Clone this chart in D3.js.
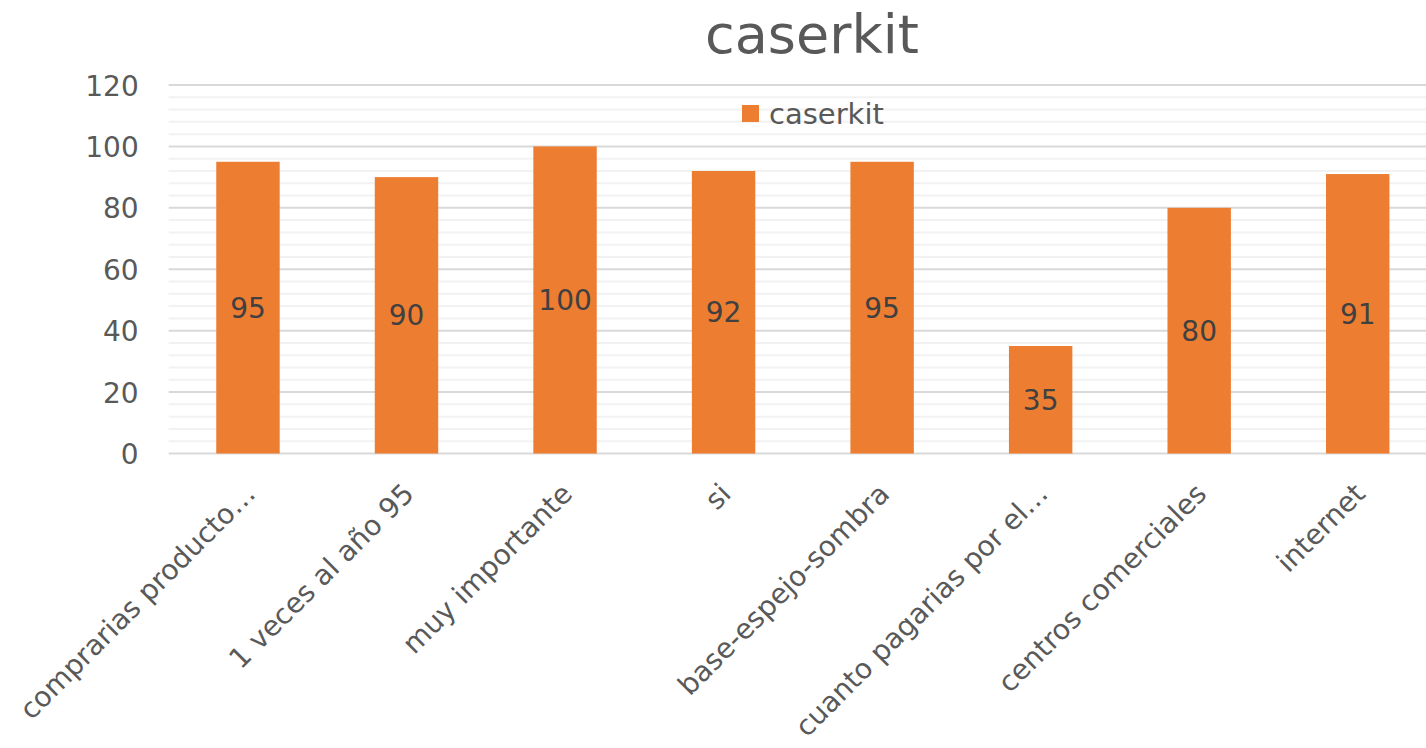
<!DOCTYPE html>
<html>
<head>
<meta charset="utf-8">
<script src="https://cdn.jsdelivr.net/npm/d3@7"></script>
<style>
  html, body { margin: 0; padding: 0; background: #fff; overflow: hidden; }
  text { font-family: "DejaVu Sans", sans-serif; }
</style>
</head>
<body>
<div class="chart-container"></div>
<script>
const categories = [
  "comprarias producto…",
  "1 veces al año 95",
  "muy importante",
  "si",
  "base-espejo-sombra",
  "cuanto pagarias por el…",
  "centros comerciales",
  "internet"
];
const values = [95, 90, 100, 92, 95, 35, 80, 91];
const majorTicks = [0, 20, 40, 60, 80, 100, 120];
const minorTicks = d3.range(0, 121, 4);
const seriesName = "caserkit";
const chartTitle = "caserkit";

const width = 1426, height = 748;
const plot = { left: 168.7, right: 1437, top: 85, bottom: 453.5 };

const svg = d3.select(".chart-container").append("svg")
  .attr("width", width)
  .attr("height", height)
  .attr("viewBox", `0 0 ${width} ${height}`);

const xScale = d3.scaleBand()
  .domain(categories)
  .range([plot.left, plot.right])
  .paddingInner(0.6)
  .paddingOuter(0.3);

const yScale = d3.scaleLinear()
  .domain([0, 120])
  .range([plot.bottom, plot.top]);

// minor gridlines
svg.append("g")
  .selectAll("line")
  .data(minorTicks.filter(d => d % 20 !== 0))
  .enter().append("line")
  .attr("x1", plot.left)
  .attr("x2", plot.right)
  .attr("y1", d => yScale(d))
  .attr("y2", d => yScale(d))
  .attr("stroke", "#f2f2f2")
  .attr("stroke-width", 2);

// major gridlines
svg.append("g")
  .selectAll("line")
  .data(majorTicks)
  .enter().append("line")
  .attr("x1", plot.left)
  .attr("x2", plot.right)
  .attr("y1", d => yScale(d))
  .attr("y2", d => yScale(d))
  .attr("stroke", "#d9d9d9")
  .attr("stroke-width", 2);

// y axis labels
const yAxis = svg.append("g")
  .attr("transform", `translate(${plot.left - 30},0)`)
  .call(d3.axisLeft(yScale).tickValues(majorTicks).tickSize(0).tickPadding(0));
yAxis.select(".domain").remove();
yAxis.selectAll("text")
  .attr("fill", "#595959")
  .style("font-size", "28px")
  .style("font-family", "DejaVu Sans")
  .attr("dy", "0.36em");

// bars
svg.append("g")
  .selectAll("rect")
  .data(values)
  .enter().append("rect")
  .attr("x", (d, i) => xScale(categories[i]))
  .attr("y", d => yScale(d))
  .attr("width", xScale.bandwidth())
  .attr("height", d => yScale(0) - yScale(d))
  .attr("fill", "#ed7d31");

// data labels
svg.append("g")
  .selectAll("text")
  .data(values)
  .enter().append("text")
  .attr("x", (d, i) => xScale(categories[i]) + xScale.bandwidth() / 2)
  .attr("y", d => (yScale(d) + yScale(0)) / 2)
  .attr("dy", "0.36em")
  .attr("text-anchor", "middle")
  .attr("fill", "#404040")
  .style("font-size", "28px")
  .text(d => d);

// category labels
const xAxis = svg.append("g")
  .attr("transform", `translate(0,${plot.bottom})`)
  .call(d3.axisBottom(xScale).tickSize(0).tickPadding(0));
xAxis.select(".domain").remove();
xAxis.selectAll("text")
  .attr("fill", "#595959")
  .style("font-size", "28px")
  .style("font-family", "DejaVu Sans")
  .attr("text-anchor", "end")
  .attr("dy", null)
  .attr("y", 0)
  .attr("transform", "translate(9,42) rotate(-45)");

// title
svg.append("text")
  .attr("x", 812)
  .attr("y", 53)
  .attr("text-anchor", "middle")
  .attr("fill", "#595959")
  .style("font-size", "54px")
  .text(chartTitle);

// legend
const legend = svg.append("g")
  .attr("transform", "translate(742,105)");
legend.append("rect")
  .attr("width", 17)
  .attr("height", 17)
  .attr("fill", "#ed7d31");
legend.append("text")
  .attr("x", 27)
  .attr("y", 19)
  .attr("fill", "#595959")
  .style("font-size", "29px")
  .text(seriesName);
</script>
</body>
</html>
